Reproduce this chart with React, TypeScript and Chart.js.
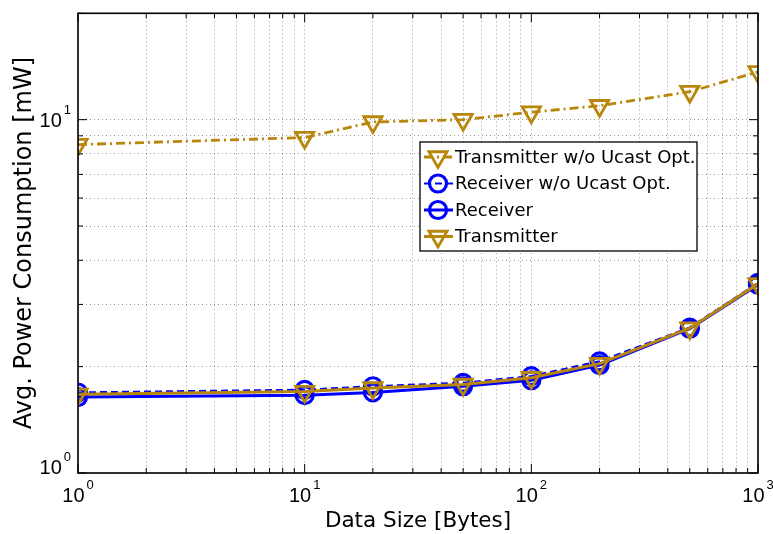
import React, { useEffect, useRef } from "react";
import { Chart, registerables } from "chart.js";
Chart.register(...registerables);

// ---- data ----
const dataSizes = [1, 10, 20, 50, 100, 200, 500, 1000];
const txNoUcast = [8.5, 8.9, 9.85, 10.0, 10.5, 10.95, 12.0, 13.65];
const rxNoUcast = [1.69, 1.72, 1.76, 1.8, 1.88, 2.07, 2.58, 3.45];
const rxValues = [1.64, 1.66, 1.69, 1.76, 1.83, 2.02, 2.56, 3.41];
const txValues = [1.67, 1.7, 1.74, 1.78, 1.86, 2.04, 2.57, 3.43];
const seriesLabels = [
  "Transmitter w/o Ucast Opt.",
  "Receiver w/o Ucast Opt.",
  "Receiver",
  "Transmitter",
];
// grid / tick positions
const xGridDecades = [1, 10, 100];
const xGridEnd = 1000;
const yGridDecades = [1];
const yGridExtra = [10, 20];
const gridMultipliers = [1, 2, 3, 4, 5, 6, 7, 8, 9];
const xLabelExps = [0, 1, 2, 3];
const yLabelExps = [0, 1];
const xTitle = "Data Size [Bytes]";
const yTitle = "Avg. Power Consumption [mW]";

const FONT = '"DejaVu Sans", sans-serif';
const TICK_FONT = '"Liberation Sans", Arial, sans-serif';
const GOLD = "rgb(184,134,11)";
const BLUE = "rgb(0,0,255)";

function gridTicks(decades: number[], extra: number[]) {
  const out: { value: number }[] = [];
  for (const d of decades) for (const m of gridMultipliers) out.push({ value: d * m });
  for (const e of extra) out.push({ value: e });
  return out;
}

function drawMarker(ctx: CanvasRenderingContext2D, style: string, x: number, y: number, r: number) {
  ctx.beginPath();
  if (style === "circle") {
    ctx.arc(x, y, r, 0, Math.PI * 2);
  } else {
    let rad = Math.PI;
    ctx.moveTo(x + Math.sin(rad) * r, y - Math.cos(rad) * r);
    rad += (2 * Math.PI) / 3;
    ctx.lineTo(x + Math.sin(rad) * r, y - Math.cos(rad) * r);
    rad += (2 * Math.PI) / 3;
    ctx.lineTo(x + Math.sin(rad) * r, y - Math.cos(rad) * r);
    ctx.closePath();
  }
  ctx.stroke();
}

function drawPow(ctx: CanvasRenderingContext2D, exp: number, x: number, y: number, align: "center" | "right") {
  ctx.save();
  ctx.fillStyle = "#000";
  ctx.textBaseline = "middle";
  ctx.textAlign = "left";
  ctx.font = `20px ${TICK_FONT}`;
  const w1 = ctx.measureText("10").width;
  ctx.font = `13px ${TICK_FONT}`;
  const w2 = ctx.measureText(String(exp)).width;
  const total = w1 + 2 + w2;
  const x0 = align === "center" ? x - total / 2 : x - total;
  ctx.font = `20px ${TICK_FONT}`;
  ctx.fillText("10", x0, y);
  ctx.font = `13px ${TICK_FONT}`;
  ctx.fillText(String(exp), x0 + w1 + 2, y - 11);
  ctx.restore();
}

const framePlugin = {
  id: "frameAndLegend",
  afterDraw(chart: any) {
    const ctx: CanvasRenderingContext2D = chart.ctx;
    const { left, right, top, bottom } = chart.chartArea;
    const xs = chart.scales.x;
    const ys = chart.scales.y;
    ctx.save();
    // tick marks (inward, both sides)
    ctx.strokeStyle = "#000";
    ctx.lineWidth = 1;
    ctx.setLineDash([]);
    for (const t of xs.ticks) {
      const p = xs.getPixelForValue(t.value);
      const major = Math.abs(Math.log10(t.value) % 1) < 1e-9;
      const len = major ? 9 : 5;
      ctx.beginPath();
      ctx.moveTo(p, bottom);
      ctx.lineTo(p, bottom - len);
      ctx.moveTo(p, top);
      ctx.lineTo(p, top + len);
      ctx.stroke();
    }
    for (const t of ys.ticks) {
      const p = ys.getPixelForValue(t.value);
      const major = Math.abs(Math.log10(t.value) % 1) < 1e-9;
      const len = major ? 9 : 5;
      ctx.beginPath();
      ctx.moveTo(left, p);
      ctx.lineTo(left + len, p);
      ctx.moveTo(right, p);
      ctx.lineTo(right - len, p);
      ctx.stroke();
    }
    // frame
    ctx.lineWidth = 1.6;
    ctx.strokeRect(left, top, right - left, bottom - top);
    // tick labels
    for (const e of xLabelExps) {
      const p = xs.getPixelForValue(Math.pow(10, e));
      drawPow(ctx, e, p, bottom + 23, "center");
    }
    for (const e of yLabelExps) {
      const p = ys.getPixelForValue(Math.pow(10, e));
      drawPow(ctx, e, left - 7, Math.min(p + 2, bottom - 5), "right");
    }
    // legend
    const bx = 420, by = 142, bw = 277, bh = 109;
    ctx.fillStyle = "#fff";
    ctx.fillRect(bx, by, bw, bh);
    ctx.lineWidth = 1.3;
    ctx.strokeStyle = "#000";
    ctx.strokeRect(bx, by, bw, bh);
    chart.data.datasets.forEach((ds: any, i: number) => {
      const y = by + 15 + i * 26.5;
      ctx.strokeStyle = ds.borderColor;
      ctx.lineWidth = ds.borderWidth;
      ctx.setLineDash(ds.borderDash || []);
      ctx.beginPath();
      ctx.moveTo(bx + 4, y);
      ctx.lineTo(bx + 33, y);
      ctx.stroke();
      ctx.setLineDash([]);
      ctx.lineWidth = ds.pointBorderWidth;
      drawMarker(ctx, ds.pointStyle, bx + 18, y, ds.pointRadius);
      ctx.fillStyle = "#000";
      ctx.font = `18px ${FONT}`;
      ctx.textBaseline = "middle";
      ctx.textAlign = "left";
      ctx.fillText(ds.label, bx + 35, y + 1);
    });
    ctx.restore();
  },
};

export default function App() {
  const ref = useRef<HTMLCanvasElement>(null);
  useEffect(() => {
    if (!ref.current) return;
    const mk = (label: string, vals: number[], color: string, style: string, dash: number[], width: number, order: number) => ({
      label,
      data: dataSizes.map((x, i) => ({ x, y: vals[i] })),
      borderColor: color,
      backgroundColor: "transparent",
      borderWidth: width,
      borderDash: dash,
      pointStyle: style,
      pointRotation: style === "triangle" ? 180 : 0,
      pointRadius: style === "triangle" ? 10.5 : 8.5,
      pointBorderWidth: style === "triangle" ? 2.8 : 3.2,
      pointBorderColor: color,
      pointBackgroundColor: "transparent",
      fill: false,
      tension: 0,
      order,
    });
    const chart = new Chart(ref.current, {
      type: "line",
      data: {
        datasets: [
          mk(seriesLabels[0], txNoUcast, GOLD, "triangle", [9, 4, 2, 4], 2.8, 3),
          mk(seriesLabels[1], rxNoUcast, BLUE, "circle", [7, 4], 2.2, 2),
          mk(seriesLabels[2], rxValues, BLUE, "circle", [], 3, 1),
          mk(seriesLabels[3], txValues, GOLD, "triangle", [], 3, 0),
        ] as any,
      },
      options: {
        animation: false,
        responsive: true,
        maintainAspectRatio: false,
        layout: { padding: { left: 0, top: 13, right: 15, bottom: 0 } },
        plugins: { legend: { display: false }, tooltip: { enabled: false } },
        scales: {
          x: {
            type: "logarithmic",
            min: 1,
            max: 1000,
            ticks: { display: false, autoSkip: false },
            grid: { color: "rgba(0,0,0,0.4)", lineWidth: 1, drawTicks: false },
            border: { display: false, dash: [1, 3] },
            title: {
              display: true,
              text: xTitle,
              font: { family: FONT, size: 21.5 },
              color: "#000",
              padding: { top: 0, bottom: 0 },
            },
            afterBuildTicks(scale: any) {
              scale.ticks = gridTicks(xGridDecades, [xGridEnd]);
            },
            afterFit(scale: any) {
              scale.height = 61;
            },
          },
          y: {
            type: "logarithmic",
            min: 1,
            max: 20,
            ticks: { display: false, autoSkip: false },
            grid: { color: "rgba(0,0,0,0.4)", lineWidth: 1, drawTicks: false },
            border: { display: false, dash: [1, 3] },
            title: {
              display: true,
              text: yTitle,
              font: { family: FONT, size: 24 },
              color: "#000",
              padding: { top: 10, bottom: 0 },
            },
            afterBuildTicks(scale: any) {
              scale.ticks = gridTicks(yGridDecades, yGridExtra);
            },
            afterFit(scale: any) {
              scale.width = 78;
            },
          },
        },
      } as any,
      plugins: [framePlugin],
    });
    return () => chart.destroy();
  }, []);
  return (
    <div style={{ position: "fixed", left: 0, top: 0, width: 773, height: 534, background: "#fff" }}>
      <canvas ref={ref} />
    </div>
  );
}
